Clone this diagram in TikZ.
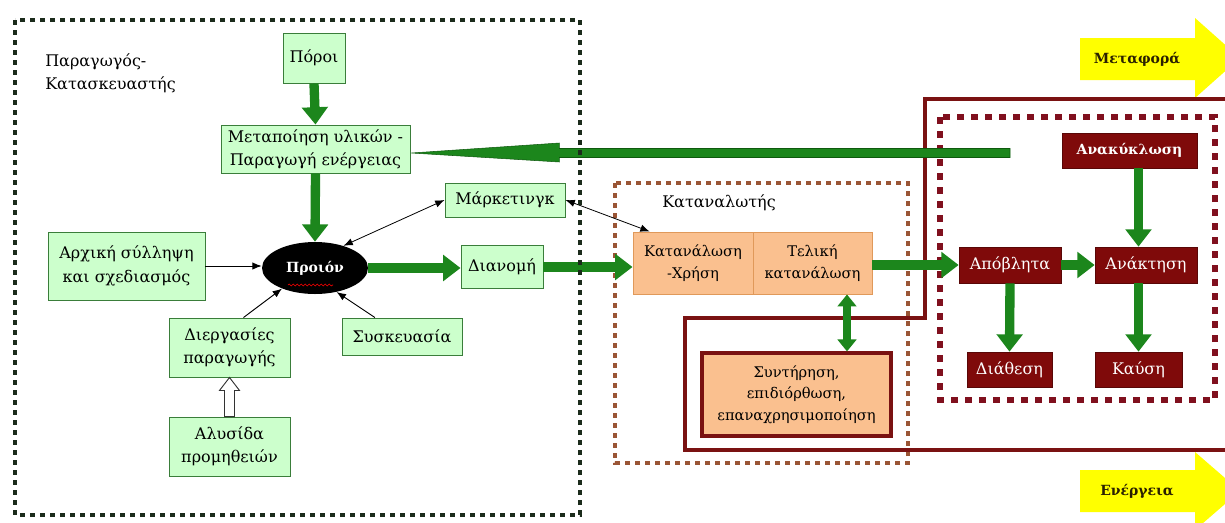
\documentclass[tikz,border=0pt]{standalone}
\usepackage{fontspec}
\setmainfont{DejaVu Serif}
\usetikzlibrary{shapes.geometric,arrows.meta,calc,decorations.pathmorphing}
\definecolor{lgreen}{HTML}{CCFFCC}
\definecolor{gborder}{HTML}{3A7D3A}
\definecolor{garr}{HTML}{1C861C}
\definecolor{garrd}{HTML}{0E5A0E}
\definecolor{orangef}{HTML}{FAC08F}
\definecolor{oborder}{HTML}{E0995A}
\definecolor{dred}{HTML}{7F0A0A}
\definecolor{pathred}{HTML}{7A1212}
\definecolor{dotblack}{HTML}{1B2B1B}
\definecolor{dotbrown}{HTML}{9A5535}
\definecolor{dotred}{HTML}{80101E}
\definecolor{yel}{HTML}{FFFF00}
\definecolor{ytext}{HTML}{2A2000}
\begin{document}
\begin{tikzpicture}[x=0.75pt,y=-0.75pt,
  txt/.style={font=\fontsize{12}{17.5}\selectfont},
  sz/.style 2 args={minimum width=#1*0.75pt, minimum height=#2*0.75pt},
  gbox/.style={draw=gborder, fill=lgreen, line width=0.7pt, align=center, inner sep=0pt, txt},
  obox/.style={draw=oborder, fill=orangef, line width=0.7pt, align=center, inner sep=0pt, font=\fontsize{11}{16}\selectfont},
  rbox/.style={fill=dred, draw=dred!70!black, line width=0.5pt, text=white, align=center, inner sep=0pt, txt},
  garrow/.style={draw=garr, line width=7pt, -{Triangle[length=13pt,width=19pt]}},
  gdarrow/.style={draw=garr, line width=6pt, {Triangle[length=9pt,width=14pt]}-{Triangle[length=9pt,width=14pt]}},
  tarrow/.style={draw=black, line width=0.7pt, -{Latex[length=7pt,width=5.5pt]}},
  tdarrow/.style={draw=black, line width=0.6pt, {Latex[length=7pt,width=5.5pt]}-{Latex[length=7pt,width=5.5pt]}},
  lbl/.style={inner sep=0pt, txt},
  ylbl/.style={inner sep=0pt, text=ytext, font=\fontsize{10.5}{12}\selectfont\bfseries}
]
\useasboundingbox (0,0) rectangle (1225,522);
\begin{scope}
\clip (0,0) rectangle (1225,522);
% yellow arrows
\fill[yel] (1080,38) -- (1195,38) -- (1195,18) -- (1240,58) -- (1195,98) -- (1195,80) -- (1080,80) -- cycle;
\fill[yel] (1080,470) -- (1195,470) -- (1195,452) -- (1240,491) -- (1195,530) -- (1195,512) -- (1080,512) -- cycle;
% dotted groups
\draw[dotbrown, line width=3pt, dash pattern=on 3.5pt off 4pt] (615,183) rectangle (908,463);
\draw[dotred, line width=4.5pt, dash pattern=on 5pt off 5.5pt] (940,117) rectangle (1215,400);
% dark red outline
\draw[pathred, line width=3.2pt] (1230,99) -- (925,99) -- (925,318) -- (685,318) -- (685,450) -- (1230,450);
\end{scope}

\node[ylbl] (metafora) at (1137,59) {Μεταφορά};
\node[ylbl] (energeia) at (1137,491) {Ενέργεια};

% producer side
\node[lbl, anchor=north west, align=left] (prodlbl) at (45,53) {Παραγωγός-\\Κατασκευαστής};
\node[gbox, sz={62}{50}] (poroi) at (314,58) {Πόροι};
\node[gbox, sz={189}{48}] (meta) at (315.5,149) {Μεταποίηση υλικών -\\Παραγωγή ενέργειας};
\node[ellipse, fill=black, sz={106}{52}, inner sep=0pt, text=white, font=\fontsize{10.5}{13}\selectfont\bfseries] (prod) at (315,268) {Προιόν};
\node[gbox, sz={157}{68}] (arx) at (126.5,266) {Αρχική σύλληψη\\και σχεδιασμός};
\node[gbox, sz={121}{59}] (dier) at (229.5,347.5) {Διεργασίες\\παραγωγής};
\node[gbox, sz={120}{37}] (sysk) at (402,336.5) {Συσκευασία};
\node[gbox, sz={121}{59}] (aly) at (229.5,446.5) {Αλυσίδα\\προμηθειών};
\node[gbox, sz={120}{34}] (mark) at (505,200) {Μάρκετινγκ};
\node[gbox, sz={82}{43}] (dian) at (502,267) {Διανομή};

% consumer side
\node[lbl, anchor=west] (katlbl) at (662,203) {Καταναλωτής};
\node[obox, sz={120}{62}] (kat1) at (693,263) {Κατανάλωση\\-Χρήση};
\node[obox, sz={119}{62}] (kat2) at (812.5,263) {Τελική\\κατανάλωση};
\node[obox, draw=pathred, line width=2.4pt, sz={189}{83}] (synt) at (796.5,394.5) {Συντήρηση,\\επιδιόρθωση,\\επαναχρησιμοποίηση};

% waste side
\node[rbox, sz={135}{35}, font=\fontsize{10.5}{12}\selectfont\bfseries] (anak) at (1129.5,150.5) {Ανακύκλωση};
\node[rbox, sz={102}{36}] (apo) at (1010,265) {Απόβλητα};
\node[rbox, sz={102}{36}] (anakt) at (1146,265) {Ανάκτηση};
\node[rbox, sz={85}{35}] (diath) at (1009.5,369.5) {Διάθεση};
\node[rbox, sz={87}{35}] (kaysi) at (1138.5,369.5) {Καύση};

% spell-check underline
\draw[red, line width=0.45pt, decorate, decoration={snake, amplitude=0.7pt, segment length=3pt}] ($(prod.center)+(-27,17)$) -- ($(prod.center)+(18,17)$);

% long return arrow (recycling -> processing)
\coordinate (recin) at (1010,153);
\coordinate (mtip) at ($(meta.east)+(1,4)$);
\filldraw[fill=garr, draw=garrd, line width=0.4pt] ($(recin)+(0,-4.5)$) -- ($(mtip)+(148,-4.5)$) -- ($(mtip)+(148,-10)$) -- (mtip) -- ($(mtip)+(148,9)$) -- ($(mtip)+(148,4.5)$) -- ($(recin)+(0,4.5)$) -- cycle;

% thick green arrows
\draw[garrow] (poroi.south) -- (meta.north);
\draw[garrow] (meta.south) -- (prod.north);
\draw[garrow] (prod.east) -- (prod.east -| dian.west);
\draw[garrow] (dian.east) -- (dian.east -| kat1.west);
\coordinate (ke) at ($(kat2.east)+(0,2)$);
\draw[garrow] (ke) -- (ke -| apo.west);
\draw[garrow] (apo.east) -- (anakt.west);
\draw[garrow] (apo.south) -- (diath.north);
\draw[garrow] (kaysi.north |- anak.south) -- (kaysi.north |- anakt.north);
\draw[garrow] (kaysi.north |- anakt.south) -- (kaysi.north);
\coordinate (kd) at ($(kat2.south)+(34.5,0)$);
\draw[gdarrow] (kd) -- (kd |- synt.north);

% thin arrows
\draw[tarrow] (arx.east) -- (arx.east -| prod.west);
\draw[tarrow] (dier.65) -- (prod.212);
\draw[tarrow] (sysk.145) -- (prod.312);
\draw[tdarrow] (prod.38) -- (mark.west);
\draw[tdarrow] (mark.east) -- (kat1.144);

% hollow arrow
\draw[draw=black!80, fill=white, line width=0.7pt] ($(aly.north)+(-5,0)$) -- ($(dier.south)+(-5,13)$) -- ($(dier.south)+(-10,13)$) -- (dier.south) -- ($(dier.south)+(10,13)$) -- ($(dier.south)+(5,13)$) -- ($(aly.north)+(5,0)$) -- cycle;

% producer dotted frame (on top)
\draw[dotblack, line width=3pt, dash pattern=on 3.5pt off 4pt] (15,20) rectangle (580,515);
\end{tikzpicture}
\end{document}
